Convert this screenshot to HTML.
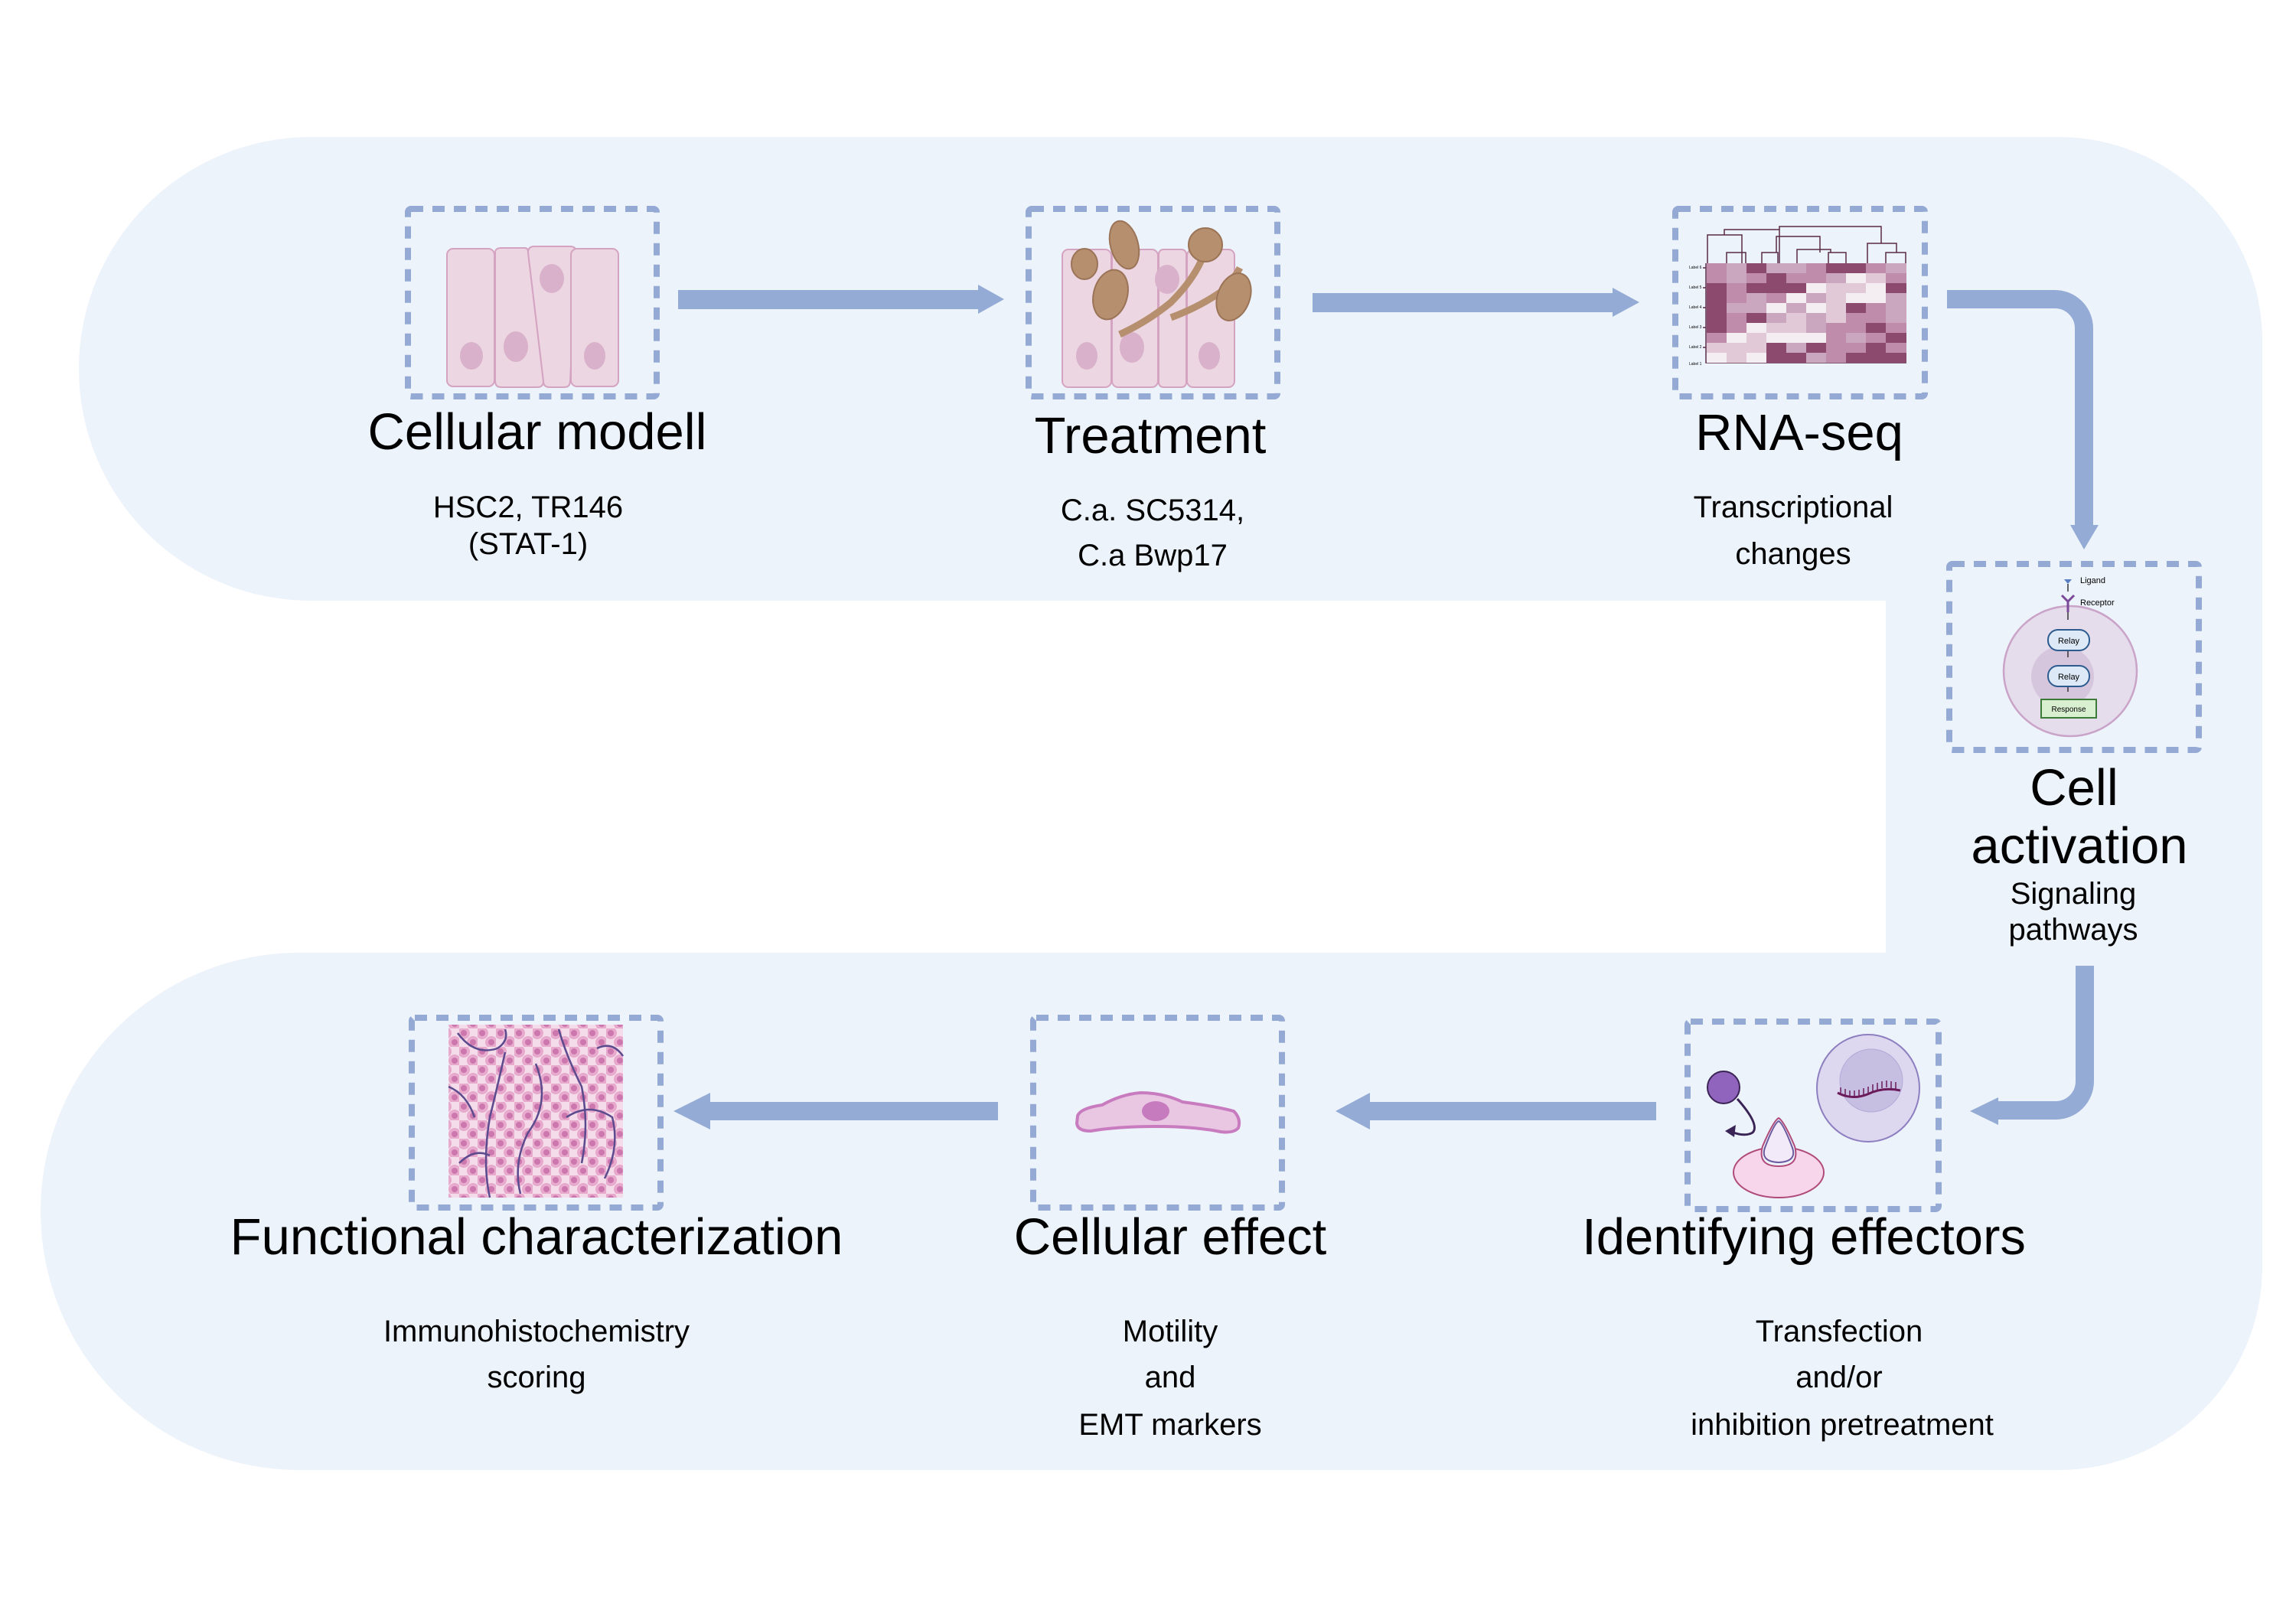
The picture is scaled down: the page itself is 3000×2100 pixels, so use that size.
<!DOCTYPE html>
<html><head><meta charset="utf-8"><style>
html,body{margin:0;padding:0;background:#fff;}
svg{display:block;}
text{font-family:"Liberation Sans",sans-serif;fill:#000;}
</style></head><body>
<svg width="3000" height="2100" viewBox="0 0 3000 2100" xmlns="http://www.w3.org/2000/svg">
<defs>
<pattern id="tis" width="24" height="24" patternUnits="userSpaceOnUse">
<rect width="24" height="24" fill="#f4dcea"/>
<circle cx="6" cy="6" r="8" fill="#e7a9cc"/><circle cx="6" cy="6" r="4" fill="#cc77ad"/>
<circle cx="18" cy="18" r="8" fill="#e7a9cc"/><circle cx="18" cy="18" r="4" fill="#cc77ad"/>
</pattern>
</defs>
<path d="M406,179 H2690 A266,266 0 0 1 2956,445 V1655 A266,266 0 0 1 2690,1921 H391 A338,338 0 0 1 391,1245 H2464 V785 H406 A303,303 0 0 1 406,179 Z" fill="#edf3fb"/>

<g fill="none" stroke="#94aad4" stroke-width="8" stroke-dasharray="16 12">
<rect x="533" y="273" width="325" height="245" rx="4"/>
<rect x="1344" y="273" width="325" height="245" rx="4"/>
<rect x="2189" y="273" width="326" height="245" rx="4"/>
<rect x="2547" y="737" width="326" height="243" rx="4"/>
<rect x="538" y="1330" width="325" height="248" rx="4"/>
<rect x="1350" y="1330" width="325" height="248" rx="4"/>
<rect x="2205" y="1335" width="328" height="245" rx="4"/>
</g>

<g fill="#94abd5">
<rect x="886" y="379" width="394" height="25"/><polygon points="1278,372 1312,391 1278,410"/>
<rect x="1715" y="383" width="394" height="25"/><polygon points="2107,376 2142,395 2107,414"/>
<rect x="928" y="1440" width="376" height="24"/><polygon points="928,1428 880,1452 928,1476"/>
<rect x="1790" y="1440" width="374" height="24"/><polygon points="1790,1428 1745,1452 1790,1476"/>
<polygon points="2611,1434 2574,1452 2611,1470"/>
</g>
<g fill="none" stroke="#94abd5" stroke-width="24">
<path d="M2544,391 H2685 A38,38 0 0 1 2723,429 V690"/>
<path d="M2724,1262 V1413 A38,38 0 0 1 2686,1451 H2609"/>
</g>
<polygon points="2705,686 2742,686 2723,718" fill="#94abd5"/>

<g fill="#ecd6e2" stroke="#d5a3c2" stroke-width="2">
<rect x="584" y="325" width="62" height="180" rx="8"/>
<path d="M647,330 Q647,324 655,324 H686 Q690,324 690,330 L710,498 Q710,506 702,506 H655 Q647,506 647,498 Z"/>
<path d="M690,330 Q690,322 698,322 H745 Q753,322 753,330 L745,498 Q745,506 737,506 H718 Q710,506 710,498 Z"/>
<rect x="746" y="325" width="62" height="180" rx="8"/>
</g>
<g fill="#d9b1cb">
<ellipse cx="616" cy="465" rx="15" ry="18"/><ellipse cx="674" cy="453" rx="16" ry="20"/><ellipse cx="721" cy="364" rx="16" ry="19"/><ellipse cx="777" cy="465" rx="14" ry="18"/>
</g>

<g fill="#ecd6e2" stroke="#d5a3c2" stroke-width="2">
<rect x="1388" y="326" width="64" height="180" rx="8"/>
<rect x="1453" y="326" width="60" height="180" rx="8"/>
<rect x="1514" y="326" width="36" height="180" rx="6"/>
<rect x="1551" y="326" width="62" height="180" rx="8"/>
</g>
<g fill="#d9b1cb">
<ellipse cx="1420" cy="465" rx="14" ry="18"/><ellipse cx="1479" cy="454" rx="16" ry="20"/><ellipse cx="1525" cy="365" rx="16" ry="19"/><ellipse cx="1580" cy="465" rx="14" ry="18"/>
</g>
<g fill="#b68f6e" stroke="#9b7457" stroke-width="2">
<path d="M1463,437 Q1500,420 1530,395 Q1560,365 1572,335" fill="none" stroke="#b68f6e" stroke-width="9"/>
<path d="M1530,415 Q1570,400 1600,378 Q1615,360 1620,350" fill="none" stroke="#b68f6e" stroke-width="9"/>
<ellipse cx="1469" cy="320" rx="18" ry="32" transform="rotate(-15 1469 320)"/>
<ellipse cx="1417" cy="345" rx="17" ry="20"/>
<ellipse cx="1451" cy="385" rx="22" ry="33" transform="rotate(15 1451 385)"/>
<circle cx="1575" cy="320" r="22"/>
<ellipse cx="1612" cy="388" rx="21" ry="32" transform="rotate(20 1612 388)"/>
</g>

<g stroke="#5a2a48" stroke-width="1.5" fill="none">
<path d="M2231,344 V307 H2276 V344 M2253,307 V300 H2325 V344 M2256,344 V330 H2281 V344 M2325,300 V296 H2458 V318 M2302,344 V330 H2323 V344 M2321,330 V309 H2378 V330 M2348,344 V326 H2392 V330 M2389,344 V330 H2412 V344 M2440,344 V318 H2478 V330 M2464,344 V330 H2490 V344"/>
<path d="M2229,344 V474 H2491 M2225,350 H2229 M2225,376 H2229 M2225,402 H2229 M2225,428 H2229 M2225,454 H2229"/>
</g>
<g transform="translate(2230,344)">
<rect x="0" y="0" width="26" height="13" fill="#bf8dab"/><rect x="26" y="0" width="26" height="13" fill="#cba6bf"/><rect x="52" y="0" width="26" height="13" fill="#8b4a6e"/><rect x="78" y="0" width="26" height="13" fill="#cba6bf"/><rect x="104" y="0" width="26" height="13" fill="#cba6bf"/><rect x="130" y="0" width="26" height="13" fill="#bf8dab"/><rect x="156" y="0" width="26" height="13" fill="#8b4a6e"/><rect x="182" y="0" width="26" height="13" fill="#8b4a6e"/><rect x="208" y="0" width="26" height="13" fill="#bf8dab"/><rect x="234" y="0" width="27" height="13" fill="#cba6bf"/>
<rect x="0" y="13" width="26" height="13" fill="#bf8dab"/><rect x="26" y="13" width="26" height="13" fill="#cba6bf"/><rect x="52" y="13" width="26" height="13" fill="#bf8dab"/><rect x="78" y="13" width="26" height="13" fill="#8b4a6e"/><rect x="104" y="13" width="26" height="13" fill="#bf8dab"/><rect x="130" y="13" width="26" height="13" fill="#bf8dab"/><rect x="156" y="13" width="26" height="13" fill="#cba6bf"/><rect x="182" y="13" width="26" height="13" fill="#f4eef2"/><rect x="208" y="13" width="26" height="13" fill="#e2c9d8"/><rect x="234" y="13" width="27" height="13" fill="#bf8dab"/>
<rect x="0" y="26" width="26" height="13" fill="#8b4a6e"/><rect x="26" y="26" width="26" height="13" fill="#bf8dab"/><rect x="52" y="26" width="26" height="13" fill="#8b4a6e"/><rect x="78" y="26" width="26" height="13" fill="#8b4a6e"/><rect x="104" y="26" width="26" height="13" fill="#8b4a6e"/><rect x="130" y="26" width="26" height="13" fill="#f4eef2"/><rect x="156" y="26" width="26" height="13" fill="#e2c9d8"/><rect x="182" y="26" width="26" height="13" fill="#e2c9d8"/><rect x="208" y="26" width="26" height="13" fill="#f4eef2"/><rect x="234" y="26" width="27" height="13" fill="#8b4a6e"/>
<rect x="0" y="39" width="26" height="13" fill="#8b4a6e"/><rect x="26" y="39" width="26" height="13" fill="#bf8dab"/><rect x="52" y="39" width="26" height="13" fill="#cba6bf"/><rect x="78" y="39" width="26" height="13" fill="#bf8dab"/><rect x="104" y="39" width="26" height="13" fill="#f4eef2"/><rect x="130" y="39" width="26" height="13" fill="#cba6bf"/><rect x="156" y="39" width="26" height="13" fill="#e2c9d8"/><rect x="182" y="39" width="26" height="13" fill="#f4eef2"/><rect x="208" y="39" width="26" height="13" fill="#f4eef2"/><rect x="234" y="39" width="27" height="13" fill="#cba6bf"/>
<rect x="0" y="52" width="26" height="13" fill="#8b4a6e"/><rect x="26" y="52" width="26" height="13" fill="#cba6bf"/><rect x="52" y="52" width="26" height="13" fill="#cba6bf"/><rect x="78" y="52" width="26" height="13" fill="#f4eef2"/><rect x="104" y="52" width="26" height="13" fill="#cba6bf"/><rect x="130" y="52" width="26" height="13" fill="#f4eef2"/><rect x="156" y="52" width="26" height="13" fill="#e2c9d8"/><rect x="182" y="52" width="26" height="13" fill="#8b4a6e"/><rect x="208" y="52" width="26" height="13" fill="#bf8dab"/><rect x="234" y="52" width="27" height="13" fill="#cba6bf"/>
<rect x="0" y="65" width="26" height="13" fill="#8b4a6e"/><rect x="26" y="65" width="26" height="13" fill="#bf8dab"/><rect x="52" y="65" width="26" height="13" fill="#8b4a6e"/><rect x="78" y="65" width="26" height="13" fill="#cba6bf"/><rect x="104" y="65" width="26" height="13" fill="#e2c9d8"/><rect x="130" y="65" width="26" height="13" fill="#cba6bf"/><rect x="156" y="65" width="26" height="13" fill="#e2c9d8"/><rect x="182" y="65" width="26" height="13" fill="#bf8dab"/><rect x="208" y="65" width="26" height="13" fill="#bf8dab"/><rect x="234" y="65" width="27" height="13" fill="#cba6bf"/>
<rect x="0" y="78" width="26" height="13" fill="#8b4a6e"/><rect x="26" y="78" width="26" height="13" fill="#bf8dab"/><rect x="52" y="78" width="26" height="13" fill="#f4eef2"/><rect x="78" y="78" width="26" height="13" fill="#e2c9d8"/><rect x="104" y="78" width="26" height="13" fill="#e2c9d8"/><rect x="130" y="78" width="26" height="13" fill="#cba6bf"/><rect x="156" y="78" width="26" height="13" fill="#bf8dab"/><rect x="182" y="78" width="26" height="13" fill="#bf8dab"/><rect x="208" y="78" width="26" height="13" fill="#8b4a6e"/><rect x="234" y="78" width="27" height="13" fill="#bf8dab"/>
<rect x="0" y="91" width="26" height="13" fill="#bf8dab"/><rect x="26" y="91" width="26" height="13" fill="#f4eef2"/><rect x="52" y="91" width="26" height="13" fill="#e2c9d8"/><rect x="78" y="91" width="26" height="13" fill="#f4eef2"/><rect x="104" y="91" width="26" height="13" fill="#f4eef2"/><rect x="130" y="91" width="26" height="13" fill="#f4eef2"/><rect x="156" y="91" width="26" height="13" fill="#bf8dab"/><rect x="182" y="91" width="26" height="13" fill="#cba6bf"/><rect x="208" y="91" width="26" height="13" fill="#bf8dab"/><rect x="234" y="91" width="27" height="13" fill="#8b4a6e"/>
<rect x="0" y="104" width="26" height="13" fill="#e2c9d8"/><rect x="26" y="104" width="26" height="13" fill="#e2c9d8"/><rect x="52" y="104" width="26" height="13" fill="#e2c9d8"/><rect x="78" y="104" width="26" height="13" fill="#8b4a6e"/><rect x="104" y="104" width="26" height="13" fill="#cba6bf"/><rect x="130" y="104" width="26" height="13" fill="#8b4a6e"/><rect x="156" y="104" width="26" height="13" fill="#bf8dab"/><rect x="182" y="104" width="26" height="13" fill="#bf8dab"/><rect x="208" y="104" width="26" height="13" fill="#8b4a6e"/><rect x="234" y="104" width="27" height="13" fill="#bf8dab"/>
<rect x="0" y="117" width="26" height="13" fill="#f4eef2"/><rect x="26" y="117" width="26" height="13" fill="#e2c9d8"/><rect x="52" y="117" width="26" height="13" fill="#f4eef2"/><rect x="78" y="117" width="26" height="13" fill="#8b4a6e"/><rect x="104" y="117" width="26" height="13" fill="#8b4a6e"/><rect x="130" y="117" width="26" height="13" fill="#cba6bf"/><rect x="156" y="117" width="26" height="13" fill="#bf8dab"/><rect x="182" y="117" width="26" height="13" fill="#8b4a6e"/><rect x="208" y="117" width="26" height="13" fill="#8b4a6e"/><rect x="234" y="117" width="27" height="13" fill="#8b4a6e"/>
</g>
<g fill="#333"><text x="2207" y="351" style="font-size:5px">Label 6</text><text x="2207" y="377" style="font-size:5px">Label 5</text><text x="2207" y="403" style="font-size:5px">Label 4</text><text x="2207" y="429" style="font-size:5px">Label 3</text><text x="2207" y="455" style="font-size:5px">Label 2</text><text x="2207" y="477" style="font-size:5px">Label 1</text></g>

<ellipse cx="2705" cy="877" rx="87" ry="85" fill="#e5dcec" stroke="#c9a3c8" stroke-width="2.5"/>
<ellipse cx="2695" cy="884" rx="41" ry="40" fill="#d6c6dd"/>
<polygon points="2697,757 2707,757 2702,763" fill="#5a7ec4"/>
<g stroke="#333" stroke-width="1.5" fill="#333">
<line x1="2702" y1="763" x2="2702" y2="773"/>
<line x1="2702" y1="795" x2="2702" y2="810"/>
<line x1="2702" y1="851" x2="2702" y2="859"/>
<line x1="2702" y1="897" x2="2702" y2="904"/>
</g>
<path d="M2694,778 L2702,786 L2710,778 M2702,786 V800" stroke="#7a4a98" stroke-width="3" fill="none"/>
<rect x="2676" y="823" width="54" height="27" rx="13" fill="#dde9f7" stroke="#2c5b8f" stroke-width="2"/>
<rect x="2676" y="870" width="54" height="27" rx="13" fill="#dde9f7" stroke="#2c5b8f" stroke-width="2"/>
<rect x="2667" y="914" width="72" height="24" fill="#d8f0d0" stroke="#3b7a37" stroke-width="2"/>
<g fill="#333">
<text x="2718" y="762" style="font-size:11px">Ligand</text>
<text x="2718" y="791" style="font-size:11px">Receptor</text>
<text x="2703" y="841" text-anchor="middle" style="font-size:11px">Relay</text>
<text x="2703" y="888" text-anchor="middle" style="font-size:11px">Relay</text>
<text x="2703" y="930" text-anchor="middle" style="font-size:10px">Response</text>
</g>

<rect x="586" y="1339" width="228" height="226" fill="url(#tis)"/>
<g fill="none" stroke="#5b4b8e" stroke-width="2.5">
<path d="M598,1350 Q620,1380 650,1370 Q665,1360 660,1345"/>
<path d="M660,1375 Q650,1420 640,1460 Q630,1520 640,1565"/>
<path d="M700,1390 Q720,1440 690,1480 Q670,1520 680,1560"/>
<path d="M730,1345 Q740,1380 760,1420 Q770,1470 760,1520"/>
<path d="M780,1370 Q800,1360 814,1380"/>
<path d="M600,1520 Q620,1500 640,1510"/>
<path d="M740,1460 Q770,1440 800,1460 Q810,1500 790,1540"/>
<path d="M586,1420 Q610,1430 620,1460"/>
</g>

<path d="M1408,1458 Q1412,1448 1440,1444 Q1465,1430 1490,1428 Q1520,1428 1545,1440 Q1590,1446 1612,1452 Q1622,1462 1618,1474 Q1612,1481 1595,1479 Q1560,1472 1510,1472 Q1460,1472 1425,1478 Q1408,1478 1407,1468 Z" fill="#e9c7e3" stroke="#c87cbf" stroke-width="4"/>
<ellipse cx="1510" cy="1452" rx="18" ry="13" fill="#c77bbf"/>

<ellipse cx="2441" cy="1422" rx="67" ry="70" fill="#ddd8ef" stroke="#8d7fc0" stroke-width="2"/>
<ellipse cx="2445" cy="1412" rx="41" ry="41" fill="#c6bfe2" stroke="#b3aad8" stroke-width="1"/>
<path d="M2401,1428 Q2420,1438 2440,1430 Q2460,1420 2483,1425" fill="none" stroke="#6b1a5a" stroke-width="3"/>
<g stroke="#6b1a5a" stroke-width="1.5">
<line x1="2405" y1="1430" x2="2405" y2="1421"/><line x1="2411" y1="1432" x2="2411" y2="1423"/><line x1="2417" y1="1434" x2="2417" y2="1425"/><line x1="2423" y1="1434" x2="2423" y2="1425"/><line x1="2429" y1="1433" x2="2429" y2="1424"/><line x1="2435" y1="1431" x2="2435" y2="1422"/><line x1="2441" y1="1429" x2="2441" y2="1420"/><line x1="2447" y1="1426" x2="2447" y2="1417"/><line x1="2453" y1="1424" x2="2453" y2="1415"/><line x1="2459" y1="1422" x2="2459" y2="1413"/><line x1="2465" y1="1421" x2="2465" y2="1412"/><line x1="2471" y1="1422" x2="2471" y2="1413"/><line x1="2477" y1="1423" x2="2477" y2="1414"/>
</g>
<ellipse cx="2252" cy="1421" rx="21" ry="21" fill="#9063bd" stroke="#3a2455" stroke-width="2"/>
<path d="M2270,1436 Q2300,1470 2290,1480 Q2280,1486 2262,1479" fill="none" stroke="#3a2455" stroke-width="3"/>
<polygon points="2254,1478 2268,1470 2266,1486" fill="#3a2455"/>
<ellipse cx="2324" cy="1532" rx="59" ry="33" fill="#f7d5ea" stroke="#b04a7b" stroke-width="2"/>
<path d="M2324,1461 Q2317,1465 2303,1498 Q2296,1524 2324,1524 Q2352,1524 2345,1498 Q2331,1465 2324,1461 Z" fill="#edf3fb" stroke="#b04a7b" stroke-width="2"/>
<path d="M2324,1465 Q2318,1468 2306,1500 Q2300,1518 2324,1519 Q2348,1518 2342,1500 Q2330,1468 2324,1465 Z" fill="#f2eaf8" stroke="#6c5aa0" stroke-width="2"/>

<g style="font-size:67px" text-anchor="middle">
<text x="702" y="587">Cellular modell</text>
<text x="1503" y="592">Treatment</text>
<text x="2351" y="588">RNA-seq</text>
<text x="2710" y="1052">Cell</text>
<text x="2717" y="1128">activation</text>
<text x="701" y="1639">Functional characterization</text>
<text x="1529" y="1639">Cellular effect</text>
<text x="2357" y="1639">Identifying effectors</text>
</g>
<g style="font-size:40px" text-anchor="middle">
<text x="690" y="676">HSC2, TR146</text>
<text x="690" y="724">(STAT-1)</text>
<text x="1506" y="680">C.a. SC5314,</text>
<text x="1506" y="739">C.a Bwp17</text>
<text x="2343" y="676">Transcriptional</text>
<text x="2343" y="737">changes</text>
<text x="2709" y="1181">Signaling</text>
<text x="2709" y="1228">pathways</text>
<text x="701" y="1753">Immunohistochemistry</text>
<text x="701" y="1813">scoring</text>
<text x="1529" y="1753">Motility</text>
<text x="1529" y="1813">and</text>
<text x="1529" y="1875">EMT markers</text>
<text x="2403" y="1753">Transfection</text>
<text x="2403" y="1813">and/or</text>
<text x="2407" y="1875">inhibition pretreatment</text>
</g>
</svg>
</body></html>
